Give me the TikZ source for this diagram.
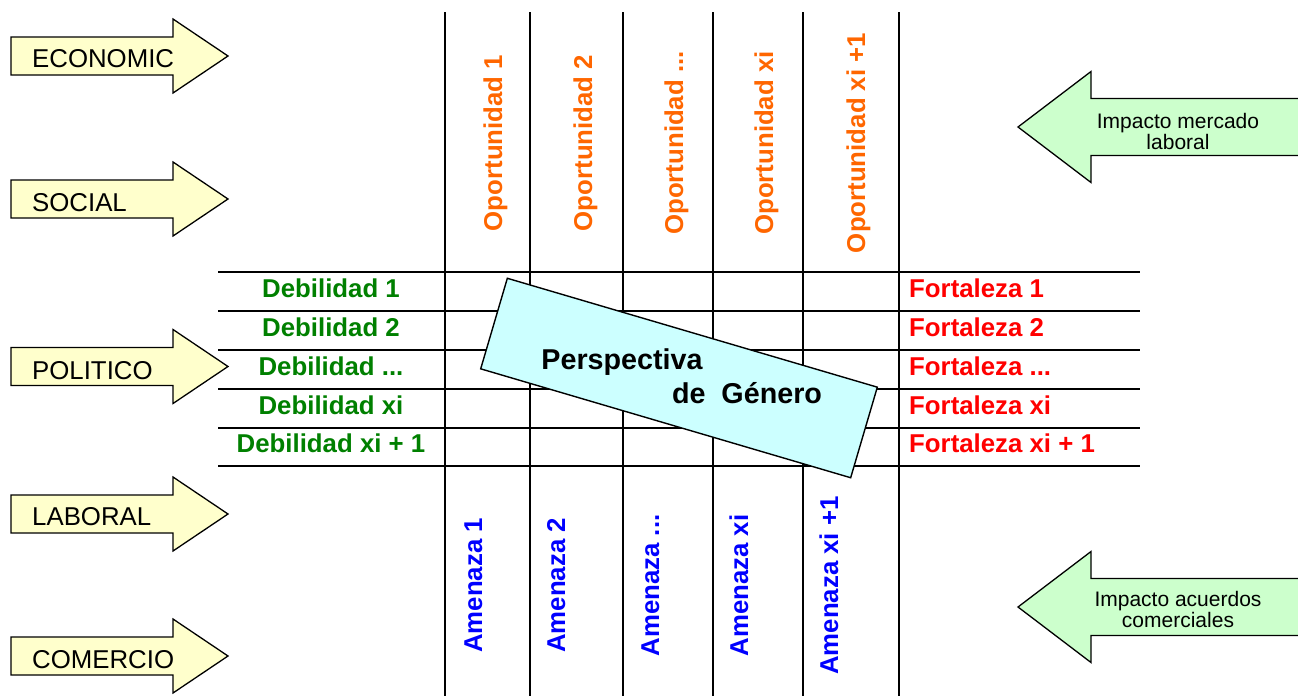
\documentclass[tikz,border=0pt]{standalone}
\usepackage{fontspec}
\setmainfont{Liberation Sans}
\definecolor{arrowyellow}{RGB}{255,255,204}
\definecolor{arrowgreen}{RGB}{204,255,204}
\definecolor{boxcyan}{RGB}{204,255,255}
\definecolor{oporange}{RGB}{255,102,0}
\definecolor{debgreen}{RGB}{0,128,0}
\definecolor{forred}{RGB}{255,0,0}
\definecolor{amblue}{RGB}{0,0,255}
\newcommand\yelarrow[1]{%
  \draw[arrowshape, fill=arrowyellow] (11,{#1-19}) -- (173,{#1-19}) -- (173,{#1-37}) -- (228,#1) -- (173,{#1+37}) -- (173,{#1+19}) -- (11,{#1+19}) -- cycle;}
\newcommand\grnarrow[1]{%
  \draw[arrowshape, fill=arrowgreen] (1310,{#1-28.5}) -- (1091,{#1-28.5}) -- (1091,{#1-55.5}) -- (1018,#1) -- (1091,{#1+55.5}) -- (1091,{#1+28.5}) -- (1310,{#1+28.5}) -- cycle;}
\begin{document}
\begin{tikzpicture}[x=1pt,y=-1pt,
  gridline/.style={line width=2pt, black},
  arrowshape/.style={draw=black, line width=1.3pt, line join=miter},
  arrowlabel/.style={inner sep=0pt, anchor=base west, font=\fontsize{25.8}{30}\selectfont},
  impactlabel/.style={inner sep=0pt, align=center, font=\fontsize{21}{21}\selectfont},
  celltext/.style={inner sep=0pt, anchor=base, font=\fontsize{25.8}{30}\selectfont\bfseries},
  optext/.style={celltext, rotate=90, text=oporange},
  amtext/.style={celltext, rotate=90, text=amblue},
  debtext/.style={celltext, text=debgreen},
  fortext/.style={celltext, anchor=base west, text=forred},
  genbox/.style={draw=black, line width=1.4pt, fill=boxcyan, inner sep=0pt,
    minimum width=385.7pt, minimum height=94.4pt, rotate=-16.4},
  gentext/.style={inner sep=0pt, anchor=base, font=\fontsize{28.7}{34}\selectfont\bfseries}]
\useasboundingbox (0,0) rectangle (1298,696);
\clip (0,0) rectangle (1298,696);

% grid
\foreach \y in {272,311,350,389,428,466}
  \draw[gridline] (218,\y) -- (1140,\y);
\foreach \x in {445,530,623,713,803,899}
  \draw[gridline] (\x,12) -- (\x,696);

% left arrows
\yelarrow{56}
\yelarrow{199}
\yelarrow{366.5}
\yelarrow{514}
\yelarrow{656}
\node[arrowlabel] (economic) at (32,67) {ECONOMIC};
\node[arrowlabel] (social) at (32,211) {SOCIAL};
\node[arrowlabel] (politico) at (32,379) {POLITICO};
\node[arrowlabel] (laboral) at (32,525) {LABORAL};
\node[arrowlabel] (comercio) at (32,668) {COMERCIO};

% right arrows
\grnarrow{127}
\grnarrow{607}
\node[impactlabel] (impmerc) at (1178,131) {Impacto mercado\\laboral};
\node[impactlabel] (impacu) at (1178,609) {Impacto acuerdos\\comerciales};

% opportunities
\node[optext] (op1) at (502,143) {Oportunidad 1};
\node[optext] (op2) at (592,143) {Oportunidad 2};
\node[optext] (op3) at (683,143) {Oportunidad ...};
\node[optext] (op4) at (773,143) {Oportunidad xi};
\node[optext] (op5) at (865,143) {Oportunidad xi +1};

% threats
\node[amtext] (am1) at (482,585.5) {Amenaza 1};
\node[amtext] (am2) at (565,585.5) {Amenaza 2};
\node[amtext] (am3) at (659,585.5) {Amenaza ...};
\node[amtext] (am4) at (748,585.5) {Amenaza xi};
\node[amtext] (am5) at (838,585.5) {Amenaza xi +1};

% weaknesses
\node[debtext] (deb1) at (331,297) {Debilidad 1};
\node[debtext] (deb2) at (331,336) {Debilidad 2};
\node[debtext] (deb3) at (331,375) {Debilidad ...};
\node[debtext] (deb4) at (331,414) {Debilidad xi};
\node[debtext] (deb5) at (331,452.5) {Debilidad xi + 1};

% strengths
\node[fortext] (for1) at (909,297) {Fortaleza 1};
\node[fortext] (for2) at (909,336) {Fortaleza 2};
\node[fortext] (for3) at (909,375) {Fortaleza ...};
\node[fortext] (for4) at (909,414) {Fortaleza xi};
\node[fortext] (for5) at (909,452.5) {Fortaleza xi + 1};

% gender perspective box
\node[genbox] (genero) at (679,378) {};
\node[gentext] (persp) at (622,369) {Perspectiva};
\node[gentext] (degen) at (747,403) {de\ \ Género};
\end{tikzpicture}
\end{document}
